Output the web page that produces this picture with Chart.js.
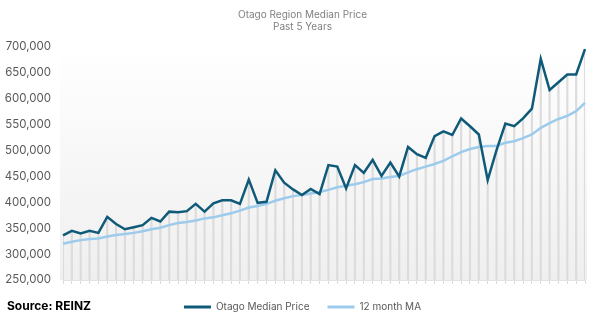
<!DOCTYPE html>
<html>
<head>
<meta charset="utf-8">
<script src="https://cdn.jsdelivr.net/npm/chart.js@4.4.0/dist/chart.umd.min.js"></script>
<style>
    html, body { margin: 0; padding: 0; background: #ffffff; }
    #wrap { position: relative; width: 602px; height: 322px; }
    #source { position: absolute; left: 7px; top: 298px; font: bold 12px Inter, sans-serif; color: #000000; }
</style>
</head>
<body>
<div id="wrap">
    <canvas id="chart" width="602" height="322"></canvas>
    <div id="source">Source: REINZ</div>
</div>
<script>
// monthly values, past 5 years (60 months)
const months = Array.from({ length: 60 }, (_, i) => "M" + (i + 1));

const medianPrice = [
    336000, 345000, 340000, 345000, 341000, 372000, 358000, 348000, 352000, 356000,
    370000, 363000, 382000, 381000, 383000, 397000, 382000, 398000, 404000, 404000,
    397000, 444000, 399000, 401000, 462000, 438000, 425000, 414000, 426000, 416000,
    472000, 469000, 427000, 472000, 457000, 482000, 451000, 477000, 450000, 507000,
    493000, 486000, 528000, 537000, 530000, 562000, 547000, 531000, 443000, 501000,
    552000, 547000, 562000, 581000, 677000, 617000, 632000, 647000, 647000, 696000
];

const movingAvg = [
    320000, 324000, 327000, 329000, 330000, 334000, 337000, 339000, 341000, 344000,
    348000, 351000, 356000, 360000, 362000, 365000, 369000, 371000, 375000, 379000,
    384000, 390000, 393000, 397000, 403000, 408000, 412000, 414000, 417000, 420000,
    424000, 429000, 432000, 435000, 439000, 445000, 446000, 449000, 451000, 458000,
    464000, 469000, 474000, 480000, 489000, 497000, 503000, 507000, 509000, 509000,
    515000, 518000, 524000, 531000, 544000, 553000, 561000, 567000, 576000, 592000
];

const yMin = 250000;
const yMax = 700000;
const yStep = 50000;

const plotBackground = {
    id: "plotBackground",
    beforeDraw(chart) {
        const { ctx, chartArea } = chart;
        const g = ctx.createLinearGradient(0, chartArea.top, 0, chartArea.bottom);
        g.addColorStop(0, "#ffffff");
        g.addColorStop(1, "#efefef");
        ctx.save();
        ctx.fillStyle = g;
        ctx.fillRect(chartArea.left - 3, chartArea.top, chartArea.width + 5, chartArea.bottom - chartArea.top);
        ctx.restore();
    }
};

new Chart(document.getElementById("chart"), {
    type: "line",
    data: {
        labels: months,
        datasets: [
            {
                label: "Otago Median Price",
                data: medianPrice,
                borderColor: "#0f5a78",
                backgroundColor: "#0f5a78",
                borderWidth: 2.5,
                pointRadius: 0,
                tension: 0,
                order: 1
            },
            {
                label: "12 month MA",
                data: movingAvg,
                borderColor: "#9ccbec",
                backgroundColor: "#9ccbec",
                borderWidth: 2.5,
                pointRadius: 0,
                tension: 0,
                order: 2
            },
            {
                type: "bar",
                label: "drop",
                data: medianPrice,
                backgroundColor: "#dcdcdc",
                barThickness: 1.5,
                order: 3
            }
        ]
    },
    options: {
        responsive: false,
        animation: false,
        layout: { padding: { left: 4, right: 1, top: 6, bottom: 0 } },
        plugins: {
            title: {
                display: true,
                text: ["Otago Region Median Price", "Past 5 Years"],
                color: "#808080",
                font: { family: "Inter", size: 10, weight: "normal", lineHeight: 1.2 },
                padding: { top: 3, bottom: 14 }
            },
            legend: {
                position: "bottom",
                labels: {
                    color: "#595959",
                    font: { family: "Inter", size: 10 },
                    boxWidth: 27,
                    boxHeight: 3,
                    padding: 18,
                    filter: item => item.text !== "drop",
                    generateLabels: chart => Chart.defaults.plugins.legend.labels.generateLabels(chart).map(l => {
                        l.lineWidth = 0;
                        l.fillStyle = l.strokeStyle;
                        return l;
                    })
                }
            },
            tooltip: { enabled: false }
        },
        scales: {
            x: {
                offset: false,
                grid: { offset: false, drawOnChartArea: false, drawTicks: true, tickLength: 4, color: "#d9d9d9" },
                border: { display: true, color: "#e3e3e3" },
                ticks: { display: false }
            },
            y: {
                min: yMin,
                max: yMax,
                afterFit: scale => { scale.width = 59; },
                grid: { display: false, drawTicks: false },
                border: { display: false },
                ticks: {
                    stepSize: yStep,
                    padding: 12,
                    color: "#595959",
                    font: { family: "Inter", size: 11.5 },
                    callback: v => v.toLocaleString("en-US")
                }
            },
            yRight: {
                position: "right",
                min: yMin,
                max: yMax,
                afterFit: scale => { scale.width = 16; },
                grid: { display: false, drawTicks: false },
                border: { display: false },
                ticks: { display: false }
            }
        }
    },
    plugins: [plotBackground]
});
</script>
</body>
</html>
